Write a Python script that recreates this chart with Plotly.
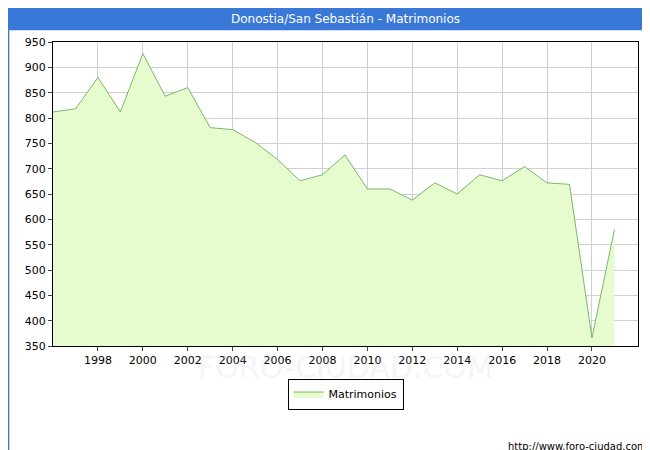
import plotly.graph_objects as go

years = list(range(1996, 2022))
matrimonios = [812, 818, 880, 812, 927, 843, 860, 781, 777, 752, 718, 676, 688, 727,
               660, 660, 638, 672, 650, 688, 676, 704, 672, 669, 366, 580]
x_ticks = list(range(1998, 2021, 2))
y_ticks = list(range(350, 951, 50))

fig = go.Figure()
fig.add_trace(go.Scatter(
    x=years, y=matrimonios, name="Matrimonios", mode="lines",
    fill="tozeroy", fillcolor="#e6fccf",
    line=dict(color="#5aa64a", width=0.8),
))

fig.update_layout(
    width=650, height=450,
    margin=dict(l=45, r=20, t=34, b=112, autoexpand=False),
    paper_bgcolor="white", plot_bgcolor="white",
    font=dict(family="DejaVu Sans", size=11, color="black"),
    showlegend=True,
    legend=dict(orientation="h", x=0.5, xanchor="center", y=-0.158, yanchor="middle",
                bordercolor="black", borderwidth=1, font=dict(size=11)),
    shapes=[
        dict(type="rect", xref="paper", yref="paper", x0=-0.077, x1=1.034, y0=1.039, y1=1.112,
             fillcolor="#3a78d8", line=dict(width=0), layer="below"),
        dict(type="rect", xref="paper", yref="paper", x0=-0.076, x1=1.033, y0=-0.366, y1=1.11,
             fillcolor="rgba(0,0,0,0)", line=dict(width=1.5, color="#3a78d8"), layer="below"),
    ],
    annotations=[
        dict(text="Donostia/San Sebastián - Matrimonios", xref="paper", yref="paper",
             x=0.5, y=1.075, yanchor="middle", showarrow=False, font=dict(color="white", size=12)),
        dict(text="http://www.foro-ciudad.com", xref="paper", yref="paper",
             x=1.018, y=-0.33, xanchor="right", yanchor="middle", showarrow=False,
             font=dict(size=10)),
        dict(text="FORO-CIUDAD.COM", xref="paper", yref="paper", x=0.5, y=-0.07,
             yanchor="middle", showarrow=False,
             font=dict(size=30, color="rgba(200,200,230,0.2)")),
    ],
)
fig.update_xaxes(range=[1996, 2022.05], tickvals=x_ticks, showgrid=True, automargin=False,
                 gridcolor="#d0d0d0", showline=True, linecolor="black", mirror=True,
                 ticks="outside", ticklen=4)
fig.update_yaxes(range=[350, 950], tickvals=y_ticks, showgrid=True, automargin=False,
                 gridcolor="#d0d0d0", showline=True, linecolor="black", mirror=True,
                 ticks="outside", ticklen=4)

fig.write_html("out.html")
